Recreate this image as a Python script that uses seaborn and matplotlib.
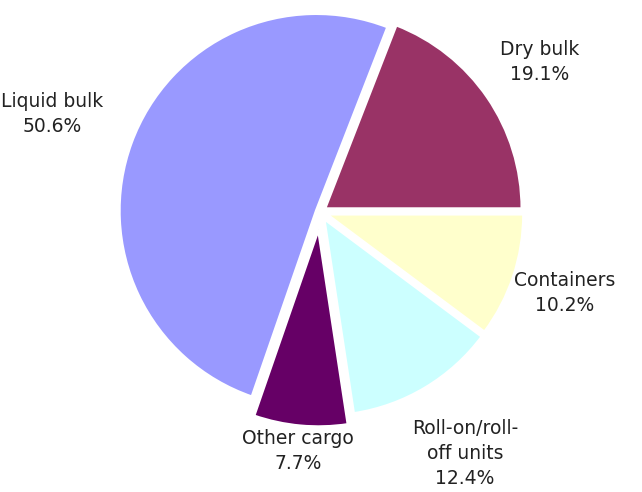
import matplotlib
matplotlib.use("Agg")
import matplotlib.pyplot as plt
import seaborn as sns
import numpy as np

sns.set_theme(style="white")
plt.rcParams['font.family'] = ['DejaVu Sans']

categories = ["Dry bulk", "Liquid bulk", "Other cargo", "Roll-on/roll-\noff units", "Containers"]
shares = [19.1, 50.6, 7.7, 12.4, 10.2]
colors = ["#993366", "#9999FF", "#660066", "#CCFFFF", "#FFFFCC"]
explode = [0.03, 0.02, 0.09, 0.04, 0.035]
label_dist = [1.35, 1.45, 1.22, 1.43, 1.31]

fig = plt.figure(figsize=(6.42, 4.92), dpi=100)
ax = fig.add_axes([0, 0, 1, 1])
wedges, texts = ax.pie(shares, colors=colors, explode=explode, startangle=0,
                       counterclock=True, radius=1.0,
                       labels=[f"{c}\n{v:.1f}%" for c, v in zip(categories, shares)],
                       labeldistance=1.35,
                       wedgeprops=dict(edgecolor="white", linewidth=2))
tot = sum(shares)
ang = 0
for t, v, d in zip(texts, shares, label_dist):
    mid = np.deg2rad(ang + v / tot * 360 / 2)
    ang += v / tot * 360
    t.set_position((d * np.cos(mid), d * np.sin(mid)))
    t.set_ha("center")
    t.set_va("center")
    t.set_multialignment("center")
    t.set_fontsize(13.5)
    t.set_color("#222222")
    t.set_linespacing(1.4)

ax.set_xlim(-320 / 197, 322 / 197)
ax.set_ylim(-280 / 197, 212 / 197)
ax.set_aspect("equal")
ax.axis("off")
fig.savefig("out.png", dpi=100, facecolor="white")
